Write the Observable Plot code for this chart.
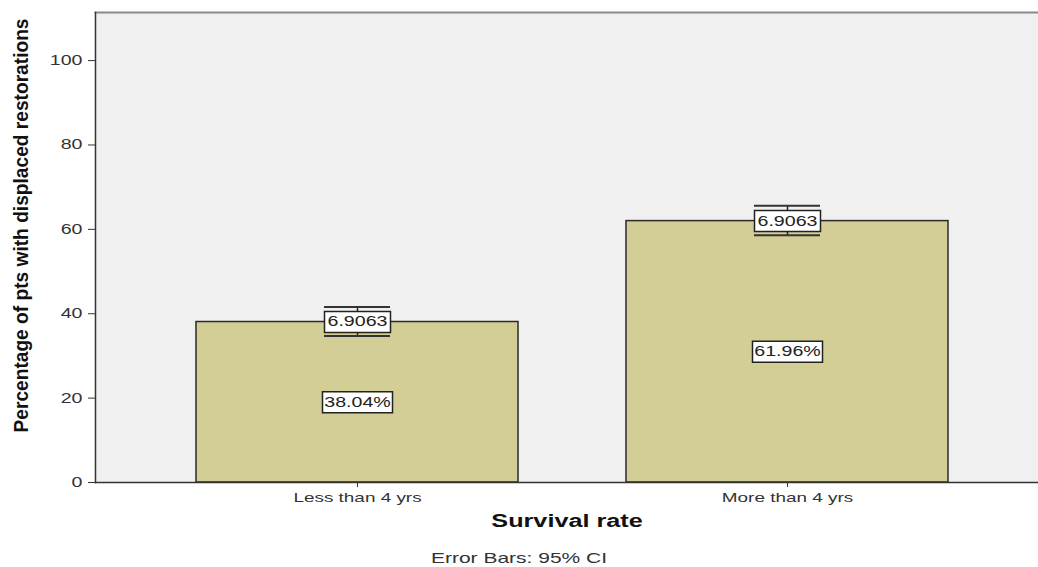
<!DOCTYPE html>
<html>
<head>
<meta charset="utf-8">
<script src="https://cdn.jsdelivr.net/npm/d3@7"></script>
<script src="https://cdn.jsdelivr.net/npm/@observablehq/plot@0.6"></script>
<style>
  html, body { margin: 0; padding: 0; background: #fff; }
  svg { display: block; }
</style>
</head>
<body>
<div id="chart"></div>
<script>
const categories = ["Less than 4 yrs", "More than 4 yrs"];
const percentages = [38.04, 61.96];
const ciLower = [34.7, 58.6];
const ciUpper = [41.6, 65.6];
const ciLabels = ["6.9063", "6.9063"];
const yTicks = [0, 20, 40, 60, 80, 100];
const yTitle = "Percentage of pts with displaced restorations";
const xTitle = "Survival rate";
const caption = "Error Bars: 95% CI";

const data = categories.map((c, i) => ({
  cat: c, value: percentages[i], lo: ciLower[i], hi: ciUpper[i],
  ci: ciLabels[i], pct: percentages[i].toFixed(2) + "%"
}));

function boxSymbol(w, h) {
  return { draw(ctx) { ctx.rect(-w / 2, -h / 2, w, h); } };
}

const font = "'Liberation Sans', Arial, sans-serif";

const chart = Plot.plot({
  width: 1038,
  height: 567,
  marginTop: 12,
  marginBottom: 85,
  marginLeft: 95,
  marginRight: 0,
  style: { fontFamily: font, background: "#fff" },
  x: { domain: categories, range: [95, 1049], paddingInner: 0.251, paddingOuter: 0.2348, label: null },
  y: { domain: [0, 111.4], label: null },
  marks: [
    Plot.frame({ fill: "#f0f0f0", stroke: "none" }),
    Plot.frame({ anchor: "top", stroke: "#8a8a8a", strokeWidth: 2 }),
    Plot.barY(data, { x: "cat", y: "value", fill: "#d3ce96", stroke: "#2a2a2a", strokeWidth: 1.5 }),
    Plot.frame({ anchor: "left", stroke: "#333", strokeWidth: 1.5 }),
    Plot.frame({ anchor: "bottom", stroke: "#333", strokeWidth: 1.5 }),
    Plot.axisY({ ticks: yTicks, tickSize: 7, tickPadding: 6, fontSize: 14, color: "#333", label: null }),
    Plot.axisX({ tickSize: 5, tickPadding: 5, fontSize: 13.5, color: "#333", label: null }),
    // error bars
    Plot.ruleX(data, { x: "cat", y1: "lo", y2: "hi", stroke: "#222", strokeWidth: 1.5 }),
    Plot.tickY(data, { x: "cat", y: "hi", stroke: "#333", strokeWidth: 2, insetLeft: 128, insetRight: 128 }),
    Plot.tickY(data, { x: "cat", y: "lo", stroke: "#333", strokeWidth: 2, insetLeft: 128, insetRight: 128 }),
    // CI label boxes
    Plot.dot(data, { x: "cat", y: "value", symbol: boxSymbol(66, 21), fill: "#fff", stroke: "#222", strokeWidth: 1.5 }),
    Plot.text(data, { x: "cat", y: "value", text: "ci", fontSize: 14, fill: "#222" }),
    // value label boxes
    Plot.dot(data, { x: "cat", y: d => d.value / 2, symbol: boxSymbol(70, 21), fill: "#fff", stroke: "#222", strokeWidth: 1.5 }),
    Plot.text(data, { x: "cat", y: d => d.value / 2, text: "pct", fontSize: 14, fill: "#222" }),
    // titles
    Plot.text([yTitle], {
      frameAnchor: "left", textAnchor: "middle", dx: -74, dy: -22, rotate: -90, fontSize: 20, fontWeight: "bold", fill: "#111"
    }),
    Plot.text([xTitle], {
      frameAnchor: "bottom", dy: 44, fontSize: 18, fontWeight: "bold", fill: "#111"
    }),
    Plot.text([caption], {
      frameAnchor: "bottom", dx: -48, dy: 80, fontSize: 15, fill: "#333"
    })
  ]
});

document.getElementById("chart").appendChild(chart);

// The reference is stretched horizontally; widen horizontal texts accordingly.
d3.select(chart).selectAll("text").each(function () {
  const t = this.textContent;
  if (t === yTitle) {
    this.setAttribute("textLength", 414);
    this.setAttribute("lengthAdjust", "spacingAndGlyphs");
    return;
  }
  const len = this.getComputedTextLength();
  if (len > 0) {
    this.setAttribute("textLength", (len * 1.4).toFixed(1));
    this.setAttribute("lengthAdjust", "spacingAndGlyphs");
  }
});
</script>
</body>
</html>
